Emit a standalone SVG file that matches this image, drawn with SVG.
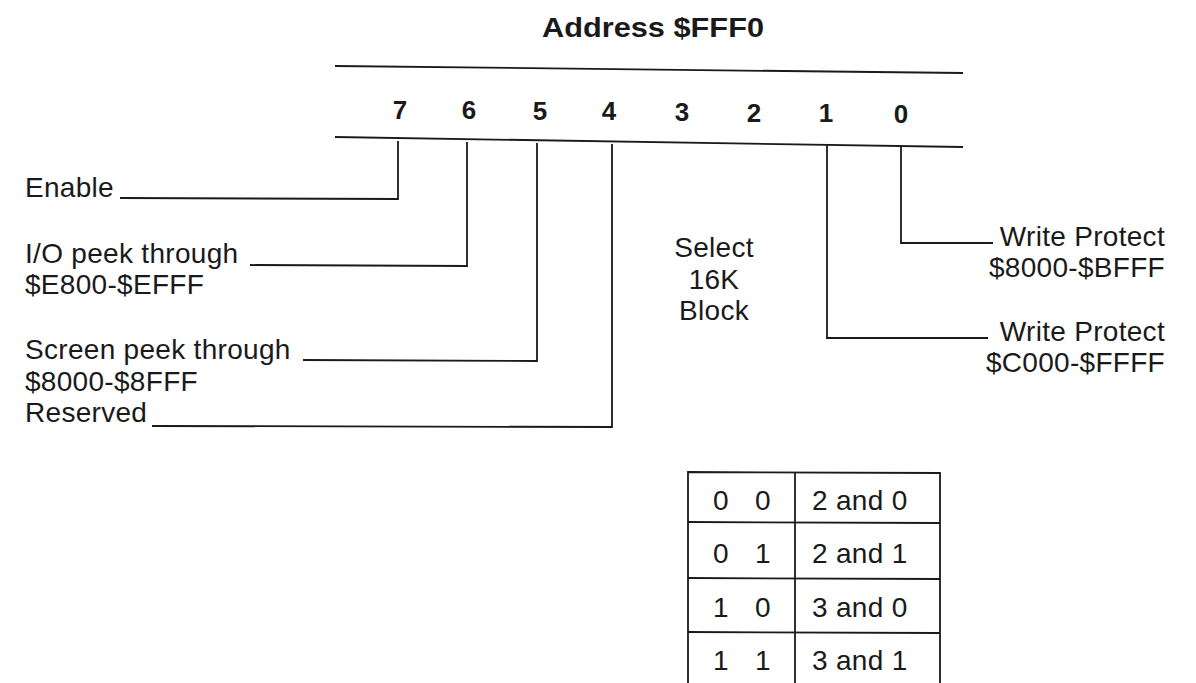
<svg xmlns="http://www.w3.org/2000/svg" width="1196" height="683" viewBox="0 0 1196 683">
<style>
.t{font-family:"Liberation Sans",Arial,sans-serif;font-size:28px;fill:#1a1a1a;letter-spacing:0.3px}
.b{font-family:"Liberation Sans",Arial,sans-serif;font-weight:bold;fill:#1a1a1a}
.d{font-size:26px;text-anchor:middle}
.r{text-anchor:end}
.m{text-anchor:middle}
.ln{stroke:#1a1a1a;stroke-width:1.8;fill:none}
</style>
<rect width="1196" height="683" fill="#fff"/>
<g id="register">
<text class="b" x="653" y="37" font-size="27" text-anchor="middle" textLength="222" lengthAdjust="spacingAndGlyphs">Address $FFF0</text>
<line class="ln" x1="335" y1="66" x2="963" y2="73"/>
<line class="ln" x1="335" y1="137" x2="963" y2="147"/>
<text class="b d" x="400" y="119">7</text>
<text class="b d" x="469" y="119">6</text>
<text class="b d" x="540" y="120">5</text>
<text class="b d" x="609" y="120">4</text>
<text class="b d" x="682" y="121">3</text>
<text class="b d" x="754" y="122">2</text>
<text class="b d" x="826" y="122">1</text>
<text class="b d" x="901" y="123">0</text>
</g>
<g id="connectors">
<polyline class="ln" points="120,198 398,199 398,141"/>
<polyline class="ln" points="250,265 467,266 467,142"/>
<polyline class="ln" points="303,360 537,361 537,143"/>
<polyline class="ln" points="152,426 612,427 612,144"/>
<polyline class="ln" points="988,338 827,338 827,145"/>
<polyline class="ln" points="993,243 901,243 901,146"/>
</g>
<g id="bit7"><text class="t" x="25" y="197">Enable</text></g>
<g id="bit6"><text class="t" x="25" y="263">I/O peek through</text><text class="t" x="25" y="294">$E800-$EFFF</text></g>
<g id="bit5"><text class="t" x="25" y="359">Screen peek through</text><text class="t" x="25" y="391">$8000-$8FFF</text></g>
<g id="bit4"><text class="t" x="25" y="422">Reserved</text></g>
<g id="bits32"><text class="t m" x="714" y="257">Select</text><text class="t m" x="714" y="289">16K</text><text class="t m" x="714" y="320">Block</text></g>
<g id="bit0"><text class="t r" x="1165" y="246">Write Protect</text><text class="t r" x="1165" y="277">$8000-$BFFF</text></g>
<g id="bit1"><text class="t r" x="1165" y="341">Write Protect</text><text class="t r" x="1165" y="372">$C000-$FFFF</text></g>
<g id="table">
<polyline class="ln" points="688,690 688,472 940,473 940,690"/>
<line class="ln" x1="795" y1="472" x2="795" y2="690"/>
<line class="ln" x1="688" y1="522" x2="940" y2="523"/>
<line class="ln" x1="688" y1="578" x2="940" y2="579"/>
<line class="ln" x1="688" y1="632" x2="940" y2="633"/>
<text class="t" x="713" y="510" font-size="26">0</text><text class="t" x="755" y="510" font-size="26">0</text><text class="t" x="812" y="510" font-size="26">2 and 0</text>
<text class="t" x="713" y="563" font-size="26">0</text><text class="t" x="755" y="563" font-size="26">1</text><text class="t" x="812" y="563" font-size="26">2 and 1</text>
<text class="t" x="713" y="617" font-size="26">1</text><text class="t" x="755" y="617" font-size="26">0</text><text class="t" x="812" y="617" font-size="26">3 and 0</text>
<text class="t" x="713" y="670" font-size="26">1</text><text class="t" x="755" y="670" font-size="26">1</text><text class="t" x="812" y="670" font-size="26">3 and 1</text>
</g>
</svg>
